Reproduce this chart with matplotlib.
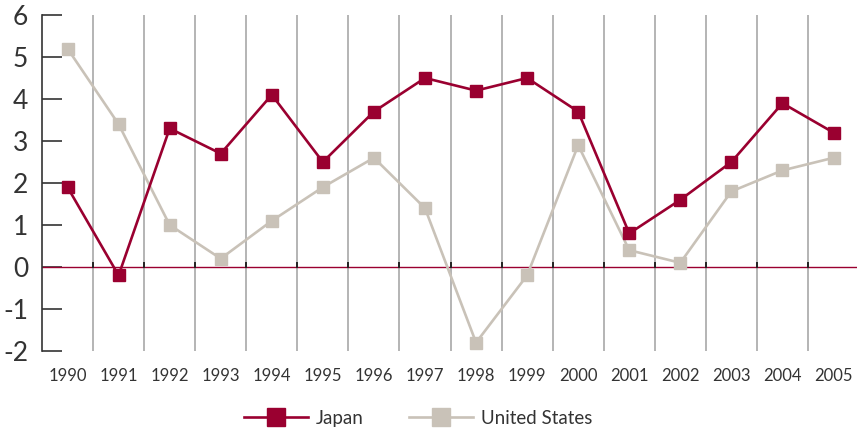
import matplotlib.pyplot as plt
import numpy as np

years = ['1990', '1991', '1992', '1993', '1994', '1995', '1996', '1997',
         '1998', '1999', '2000', '2001', '2002', '2003', '2004', '2005']
japan = [1.9, -0.2, 3.3, 2.7, 4.1, 2.5, 3.7, 4.5, 4.2, 4.5, 3.7, 0.8, 1.6, 2.5, 3.9, 3.2]
united_states = [5.2, 3.4, 1.0, 0.2, 1.1, 1.9, 2.6, 1.4, -1.8, -0.2, 2.9, 0.4, 0.1, 1.8, 2.3, 2.6]
y_ticks = [-2, -1, 0, 1, 2, 3, 4, 5, 6]

RED = '#9a0030'
BEIGE = '#c9c2b8'
GRID = '#a0a0a0'
DARK = '#333333'

plt.rcParams['font.family'] = ['Lato', 'DejaVu Sans']

fig = plt.figure(figsize=(8.57, 4.32), dpi=100)
ax = fig.add_axes([42 / 857, 1 - 351 / 432, 1 - 42 / 857, (351 - 15) / 432])

x = np.arange(len(years))

# vertical separators between years
for b in x[:-1] + 0.5:
    ax.axvline(b, color=GRID, lw=1.1, zorder=1)
    ax.plot([b, b], [0, 0.1], color='#222222', lw=1.4, zorder=3)

ax.axhline(0, color=RED, lw=1.0, zorder=2)

ax.plot(x, japan, color=RED, lw=1.9, marker='s', ms=8.5, zorder=5, label='Japan')
ax.plot(x, united_states, color=BEIGE, lw=1.9, marker='s', ms=8.5, zorder=4,
        label='United States')

ax.set_xlim(-0.5, 15.46)
ax.set_ylim(-2, 6)

for s in ['top', 'right', 'bottom']:
    ax.spines[s].set_visible(False)
ax.spines['left'].set_color(DARK)
ax.spines['left'].set_linewidth(1.2)

ax.set_yticks(y_ticks)
ax.set_yticklabels([str(v) for v in y_ticks], fontsize=19, color=DARK)
ax.tick_params(axis='y', direction='in', length=14.5, width=1.2, color=DARK, pad=10)

ax.set_xticks(x)
ax.set_xticklabels(years, fontsize=12, color=DARK)
ax.tick_params(axis='x', length=0, pad=12)

leg = fig.legend(loc='center', bbox_to_anchor=(0.488, 0.032), ncol=2, frameon=False,
                 fontsize=13.5, handlelength=3.4, columnspacing=2.4, handletextpad=0.45,
                 markerscale=1.6)
for t in leg.get_texts():
    t.set_color(DARK)

fig.savefig('out.png', dpi=100)
